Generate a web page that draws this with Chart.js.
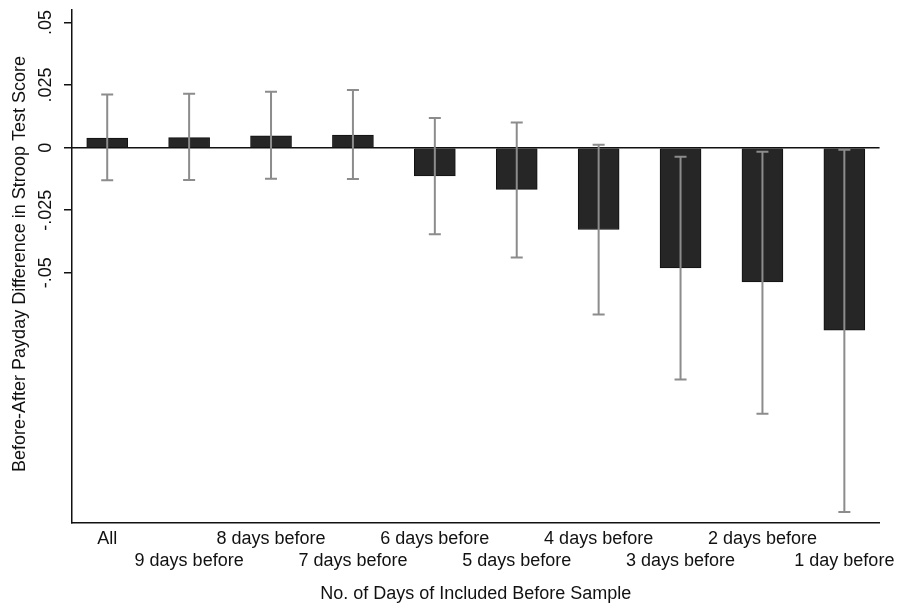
<!DOCTYPE html>
<html>
<head>
<meta charset="utf-8">
<script src="https://cdn.jsdelivr.net/npm/chart.js@4"></script>
<style>
  html, body { margin: 0; padding: 0; background: #fff; }
  #wrap { width: 900px; height: 608px; }
</style>
</head>
<body>
<div id="wrap"><canvas id="stroopChart"></canvas></div>
<script>
const categories = ['All', '9 days before', '8 days before', '7 days before', '6 days before',
  '5 days before', '4 days before', '3 days before', '2 days before', '1 day before'];
const means = [0.0038, 0.004, 0.0047, 0.005, -0.0113, -0.0167, -0.0327, -0.0481, -0.0537, -0.0729];
const ciHigh = [0.0212, 0.0215, 0.0223, 0.023, 0.0118, 0.010, 0.0012, -0.0036, -0.0016, -0.0008];
const ciLow = [-0.013, -0.0129, -0.0124, -0.0125, -0.0346, -0.0439, -0.0667, -0.0927, -0.1063, -0.1456];
const yTicks = [0.05, 0.025, 0, -0.025, -0.05];
const yTickLabels = ['.05', '.025', '0', '-.025', '-.05'];

const FONT = 'Liberation Sans, Arial, Helvetica, sans-serif';

// zero line, error bars and rotated y labels drawn on top of the bars
const stataExtras = {
  id: 'stataExtras',
  afterDatasetsDraw(chart) {
    const { ctx, chartArea, scales: { x, y } } = chart;
    ctx.save();
    const y0 = y.getPixelForValue(0);
    ctx.strokeStyle = '#111';
    ctx.lineWidth = 1.5;
    ctx.beginPath();
    ctx.moveTo(chartArea.left, y0);
    ctx.lineTo(chartArea.right, y0);
    ctx.stroke();

    ctx.strokeStyle = '#8c8c8c';
    ctx.lineWidth = 2;
    means.forEach((m, i) => {
      const px = x.getPixelForValue(i);
      const top = y.getPixelForValue(ciHigh[i]);
      const bot = y.getPixelForValue(ciLow[i]);
      ctx.beginPath();
      ctx.moveTo(px, top); ctx.lineTo(px, bot);
      ctx.moveTo(px - 6, top); ctx.lineTo(px + 6, top);
      ctx.moveTo(px - 6, bot); ctx.lineTo(px + 6, bot);
      ctx.stroke();
    });

    ctx.fillStyle = '#111';
    ctx.font = '18px ' + FONT;
    ctx.textAlign = 'center';
    ctx.textBaseline = 'middle';
    yTicks.forEach((v, i) => {
      ctx.save();
      ctx.translate(46, y.getPixelForValue(v));
      ctx.rotate(-Math.PI / 2);
      ctx.fillText(yTickLabels[i], 0, 0);
      ctx.restore();
    });
    ctx.save();
    ctx.translate(20, 264);
    ctx.rotate(-Math.PI / 2);
    ctx.fillText('Before-After Payday Difference in Stroop Test Score', 0, 0);
    ctx.restore();
    ctx.restore();
  }
};

new Chart(document.getElementById('stroopChart'), {
  type: 'bar',
  data: {
    datasets: [{
      data: means.map((v, i) => ({ x: i, y: v })),
      backgroundColor: '#262626',
      borderColor: '#111',
      borderWidth: 1,
      barThickness: 41
    }]
  },
  options: {
    responsive: true,
    maintainAspectRatio: false,
    animation: false,
    layout: { padding: { top: 10, right: 14, left: 0, bottom: 3 } },
    plugins: {
      legend: { display: false },
      tooltip: { enabled: false }
    },
    scales: {
      x: {
        type: 'linear',
        offset: false,
        min: -0.43,
        max: 9.43,
        afterBuildTicks: (s) => { s.ticks = categories.map((c, i) => ({ value: i })); },
        afterFit: (s) => { s.height = 82; },
        grid: { display: false, drawTicks: false },
        border: { display: true, color: '#111', width: 1.5 },
        ticks: {
          color: '#111',
          padding: 5,
          maxRotation: 0,
          autoSkip: false,
          font: { family: FONT, size: 18, lineHeight: 1.22 },
          callback: (v) => (v % 2 === 0 ? [categories[v], ''] : ['', categories[v]])
        },
        title: {
          display: true,
          text: 'No. of Days of Included Before Sample',
          color: '#111',
          font: { family: FONT, size: 18 },
          padding: 0
        }
      },
      y: {
        min: -0.15,
        max: 0.055,
        afterBuildTicks: (s) => { s.ticks = yTicks.map(v => ({ value: v })); },
        afterFit: (s) => { s.width = 72; },
        grid: { drawOnChartArea: false, drawTicks: true, tickLength: 8, color: '#111', lineWidth: 1.5 },
        border: { display: true, color: '#111', width: 1.5 },
        ticks: { display: false }
      }
    }
  },
  plugins: [stataExtras]
});
</script>
</body>
</html>
